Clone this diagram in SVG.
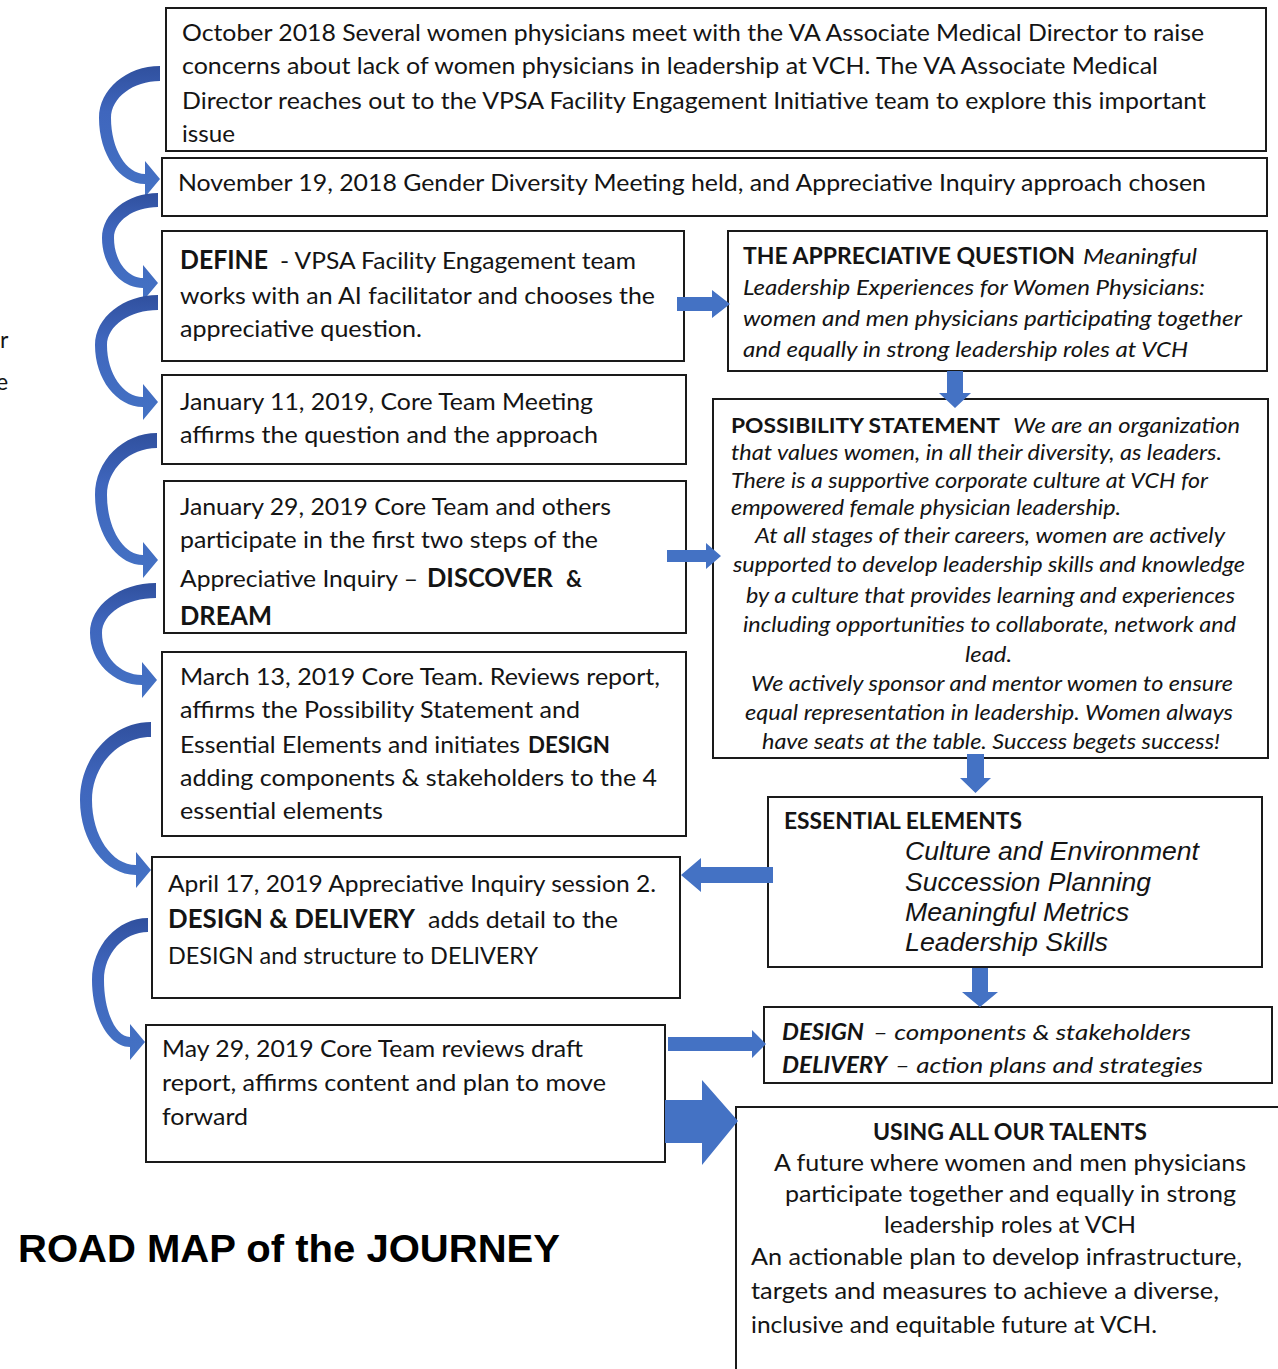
<svg xmlns="http://www.w3.org/2000/svg" width="1278" height="1369" viewBox="0 0 1278 1369">
<style>
.box{fill:#fff;stroke:#1a1a1a;stroke-width:2}
.t{font-family:Lato,"Liberation Sans",sans-serif;font-size:23px;fill:#141414}
.s{font-size:21px}
.m{font-size:22px}
.b{font-weight:bold}
.bb{font-weight:bold;font-size:26px}
.i{font-style:italic}
.ar{font-family:"Liberation Sans",Arial,sans-serif;font-style:italic;font-size:25px;fill:#141414}
.title{font-family:"Liberation Sans",Arial,sans-serif;font-weight:bold;font-size:39px;fill:#000}
.blue{fill:#4472C4}
.curve{fill:url(#cg)}
</style>
<defs>
<linearGradient id="cg" x1="0" y1="0" x2="0" y2="1">
<stop offset="0" stop-color="#30509E"/>
<stop offset="0.35" stop-color="#3F66BD"/>
<stop offset="1" stop-color="#4472C4"/>
</linearGradient>
</defs>

<text class="t" x="0" y="348">r</text>
<text class="t" x="-4" y="390">e</text>
<line x1="113" y1="233" x2="113" y2="262" stroke="#000" stroke-width="1.5"/>

<g id="oct2018">
<rect class="box" x="166" y="8" width="1100" height="143"/>
<text class="t" x="182" y="41" textLength="1022" lengthAdjust="spacingAndGlyphs">October 2018 Several women physicians meet with the VA Associate Medical Director to raise</text>
<text class="t" x="182" y="74" textLength="976" lengthAdjust="spacingAndGlyphs">concerns about lack of women physicians in leadership at VCH.  The VA Associate Medical</text>
<text class="t" x="182" y="109" textLength="1024" lengthAdjust="spacingAndGlyphs">Director reaches out to the VPSA Facility Engagement Initiative team to explore this important</text>
<text class="t" x="182" y="142" textLength="53" lengthAdjust="spacingAndGlyphs">issue</text>
</g>

<g id="nov2018">
<rect class="box" x="162" y="158" width="1105" height="58"/>
<text class="t" x="178" y="191" textLength="1028" lengthAdjust="spacingAndGlyphs">November 19, 2018 Gender Diversity Meeting held, and Appreciative Inquiry approach chosen</text>
</g>

<g id="define">
<rect class="box" x="162" y="231" width="522" height="130"/>
<text class="t bb" x="180" y="269" textLength="88" lengthAdjust="spacingAndGlyphs">DEFINE</text>
<text class="t" x="280" y="269" textLength="356" lengthAdjust="spacingAndGlyphs">- VPSA Facility Engagement team</text>
<text class="t" x="180" y="304" textLength="475" lengthAdjust="spacingAndGlyphs">works with an AI facilitator and chooses the</text>
<text class="t" x="180" y="337" textLength="242" lengthAdjust="spacingAndGlyphs">appreciative question.</text>
</g>

<g id="jan11">
<rect class="box" x="162" y="375" width="524" height="89"/>
<text class="t" x="180" y="410" textLength="413" lengthAdjust="spacingAndGlyphs">January 11, 2019, Core Team Meeting</text>
<text class="t" x="180" y="443" textLength="418" lengthAdjust="spacingAndGlyphs">affirms the question and the approach</text>
</g>

<g id="jan29">
<rect class="box" x="164" y="481" width="522" height="152"/>
<text class="t" x="180" y="515" textLength="431" lengthAdjust="spacingAndGlyphs">January 29, 2019 Core Team and others</text>
<text class="t" x="180" y="548" textLength="418" lengthAdjust="spacingAndGlyphs">participate in the first two steps of the</text>
<text class="t" x="180" y="587" textLength="238" lengthAdjust="spacingAndGlyphs">Appreciative Inquiry –</text>
<text class="t bb" x="427" y="587" textLength="126" lengthAdjust="spacingAndGlyphs">DISCOVER</text>
<text class="t b" x="566" y="587" textLength="16" lengthAdjust="spacingAndGlyphs">&amp;</text>
<text class="t bb" x="180" y="625" textLength="92" lengthAdjust="spacingAndGlyphs">DREAM</text>
</g>

<g id="mar13">
<rect class="box" x="162" y="652" width="524" height="184"/>
<text class="t" x="180" y="685" textLength="480" lengthAdjust="spacingAndGlyphs">March 13, 2019 Core Team. Reviews report,</text>
<text class="t" x="180" y="718" textLength="400" lengthAdjust="spacingAndGlyphs">affirms the Possibility Statement and</text>
<text class="t" x="180" y="753" textLength="340" lengthAdjust="spacingAndGlyphs">Essential Elements and initiates</text>
<text class="t b" x="528" y="753" textLength="82" lengthAdjust="spacingAndGlyphs">DESIGN</text>
<text class="t" x="180" y="786" textLength="477" lengthAdjust="spacingAndGlyphs">adding components &amp; stakeholders to the 4</text>
<text class="t" x="180" y="819" textLength="203" lengthAdjust="spacingAndGlyphs">essential elements</text>
</g>

<g id="apr17">
<rect class="box" x="152" y="857" width="528" height="141"/>
<text class="t" x="168" y="892" textLength="488" lengthAdjust="spacingAndGlyphs">April 17, 2019 Appreciative Inquiry session 2.</text>
<text class="t bb" x="168" y="928" textLength="247" lengthAdjust="spacingAndGlyphs">DESIGN &amp; DELIVERY</text>
<text class="t" x="428" y="928" textLength="190" lengthAdjust="spacingAndGlyphs">adds detail to the</text>
<text class="t" x="168" y="964" textLength="370" lengthAdjust="spacingAndGlyphs">DESIGN and structure to DELIVERY</text>
</g>

<g id="may29">
<rect class="box" x="146" y="1025" width="519" height="137"/>
<text class="t" x="162" y="1057" textLength="421" lengthAdjust="spacingAndGlyphs">May 29, 2019 Core Team reviews draft</text>
<text class="t" x="162" y="1091" textLength="444" lengthAdjust="spacingAndGlyphs">report, affirms content and plan to move</text>
<text class="t" x="162" y="1125" textLength="86" lengthAdjust="spacingAndGlyphs">forward</text>
</g>

<g id="question">
<rect class="box" x="728" y="231" width="539" height="140"/>
<text class="t m b" x="743" y="264" textLength="332" lengthAdjust="spacingAndGlyphs">THE APPRECIATIVE QUESTION</text>
<text class="t m i" x="1083" y="264" textLength="114" lengthAdjust="spacingAndGlyphs">Meaningful</text>
<text class="t m i" x="743" y="295" textLength="462" lengthAdjust="spacingAndGlyphs">Leadership Experiences for Women Physicians:</text>
<text class="t m i" x="743" y="326" textLength="499" lengthAdjust="spacingAndGlyphs">women and men physicians participating together</text>
<text class="t m i" x="743" y="357" textLength="445" lengthAdjust="spacingAndGlyphs">and equally in strong leadership roles at VCH</text>
</g>

<g id="possibility">
<rect class="box" x="713" y="399" width="555" height="359"/>
<text class="t s b" x="731" y="433" textLength="269" lengthAdjust="spacingAndGlyphs">POSSIBILITY STATEMENT</text>
<text class="t s i" x="1013" y="433" textLength="227" lengthAdjust="spacingAndGlyphs">We are an organization</text>
<text class="t s i" x="731" y="460" textLength="491" lengthAdjust="spacingAndGlyphs">that values women, in all their diversity, as leaders.</text>
<text class="t s i" x="731" y="488" textLength="477" lengthAdjust="spacingAndGlyphs">There is a supportive corporate culture at VCH for</text>
<text class="t s i" x="731" y="515" textLength="390" lengthAdjust="spacingAndGlyphs">empowered female physician leadership.</text>
<text class="t s i" x="755" y="543" textLength="470" lengthAdjust="spacingAndGlyphs">At all stages of their careers, women are actively</text>
<text class="t s i" x="733" y="572" textLength="512" lengthAdjust="spacingAndGlyphs">supported to develop leadership skills and knowledge</text>
<text class="t s i" x="746" y="603" textLength="489" lengthAdjust="spacingAndGlyphs">by a culture that provides learning and experiences</text>
<text class="t s i" x="743" y="632" textLength="493" lengthAdjust="spacingAndGlyphs">including opportunities to collaborate, network and</text>
<text class="t s i" x="965" y="662" textLength="47" lengthAdjust="spacingAndGlyphs">lead.</text>
<text class="t s i" x="751" y="691" textLength="482" lengthAdjust="spacingAndGlyphs">We actively sponsor and mentor women to ensure</text>
<text class="t s i" x="745" y="720" textLength="488" lengthAdjust="spacingAndGlyphs">equal representation in leadership. Women always</text>
<text class="t s i" x="762" y="749" textLength="458" lengthAdjust="spacingAndGlyphs">have seats at the table. Success begets success!</text>
</g>

<g id="essential">
<rect class="box" x="768" y="797" width="494" height="170"/>
<text class="t b" x="784" y="829" textLength="238" lengthAdjust="spacingAndGlyphs">ESSENTIAL ELEMENTS</text>
<text class="ar" x="905" y="860" textLength="294" lengthAdjust="spacingAndGlyphs">Culture and Environment</text>
<text class="ar" x="905" y="891" textLength="246" lengthAdjust="spacingAndGlyphs">Succession Planning</text>
<text class="ar" x="905" y="921" textLength="224" lengthAdjust="spacingAndGlyphs">Meaningful Metrics</text>
<text class="ar" x="905" y="951" textLength="203" lengthAdjust="spacingAndGlyphs">Leadership Skills</text>
</g>

<g id="design">
<rect class="box" x="764" y="1007" width="508" height="76"/>
<text class="t m b i" x="782" y="1040" textLength="82" lengthAdjust="spacingAndGlyphs">DESIGN</text>
<text class="t m i" x="873" y="1040" textLength="318" lengthAdjust="spacingAndGlyphs">– components &amp; stakeholders</text>
<text class="t m b i" x="782" y="1073" textLength="105" lengthAdjust="spacingAndGlyphs">DELIVERY</text>
<text class="t m i" x="895" y="1073" textLength="308" lengthAdjust="spacingAndGlyphs">– action plans and strategies</text>
</g>

<g id="talents">
<path d="M736,1369 V1107 H1280" fill="#fff" stroke="#1a1a1a" stroke-width="2"/>
<text class="t b" x="873" y="1140" textLength="274" lengthAdjust="spacingAndGlyphs">USING ALL OUR TALENTS</text>
<text class="t" x="774" y="1171" textLength="472" lengthAdjust="spacingAndGlyphs">A future where women and men physicians</text>
<text class="t" x="785" y="1202" textLength="451" lengthAdjust="spacingAndGlyphs">participate together and equally in strong</text>
<text class="t" x="884" y="1233" textLength="252" lengthAdjust="spacingAndGlyphs">leadership roles at VCH</text>
<text class="t" x="751" y="1265" textLength="491" lengthAdjust="spacingAndGlyphs">An actionable plan to develop infrastructure,</text>
<text class="t" x="751" y="1299" textLength="468" lengthAdjust="spacingAndGlyphs">targets and measures to achieve a diverse,</text>
<text class="t" x="751" y="1333" textLength="406" lengthAdjust="spacingAndGlyphs">inclusive and equitable future at VCH.</text>
</g>

<text class="title" x="18" y="1262" textLength="542" lengthAdjust="spacingAndGlyphs">ROAD MAP of the JOURNEY</text>

<g id="connectors">
<path class="curve" d="M160,66 C126.5,66 99,89.4 99,118 C99,154.3 119.7,184 145,184 L145,197 L160,179 L145,161 L145,174 C126.3,174 111,148.8 111,118 C111,97.7 133,81 160,81 Z"/>
<path class="curve" d="M158,193 C127.2,193 102,213.3 102,238 C102,265.5 120.5,288 143,288 L143,301 L158,283 L143,265 L143,278 C127,278 114,260 114,238 C114,221 133.8,207 158,207 Z"/>
<path class="curve" d="M158,295 C123.4,295 95,317.5 95,345 C95,379.1 116.6,407 143,407 L143,420 L158,402 L143,384 L143,397 C123.2,397 107,373.6 107,345 C107,325.8 130,310 158,310 Z"/>
<path class="curve" d="M157,433 C122.9,433 95,460.9 95,495 C95,533.5 116.6,565 143,565 L143,578 L158,560 L143,542 L143,555 C123.2,555 107,528 107,495 C107,469.2 129.5,448 157,448 Z"/>
<path class="curve" d="M156,583 C119.7,583 90,605.5 90,633 C90,661.6 113.4,685 142,685 L142,698 L157,680 L142,662 L142,675 C120,675 102,656.1 102,633 C102,613.8 126.3,598 156,598 Z"/>
<path class="curve" d="M151,722 C112,722 80,757.1 80,800 C80,841.3 105.2,875 136,875 L136,888 L151,870 L136,852 L136,865 C111.8,865 92,835.8 92,800 C92,765.4 118.6,737 151,737 Z"/>
<path class="curve" d="M148,918 C117.2,918 92,945.9 92,980 C92,1016.9 109.1,1047 130,1047 L130,1060 L145,1042 L130,1024 L130,1037 C115.7,1037 104,1011.4 104,980 C104,953.6 123.8,932 148,932 Z"/>
<polygon class="blue" points="677,297 712,297 712,290 730,304 712,318 712,311 677,311"/>
<polygon class="blue" points="947,371 963,371 963,393 971,393 955,408 939,393 947,393"/>
<polygon class="blue" points="667,550 706,550 706,543 721,556 706,569 706,562 667,562"/>
<polygon class="blue" points="967,754 984,754 984,778 991,778 975.5,793 960,778 967,778"/>
<polygon class="blue" points="773,867 701,867 701,858 681,875 701,892 701,883 773,883"/>
<polygon class="blue" points="972,968 988,968 988,992 998,992 980,1007 962,992 972,992"/>
<polygon class="blue" points="668,1037 752,1037 752,1030 766,1044 752,1058 752,1051 668,1051"/>
<polygon class="blue" points="665,1100 702,1100 702,1080 738,1121 702,1165 702,1143 665,1143"/>
</g>
</svg>
